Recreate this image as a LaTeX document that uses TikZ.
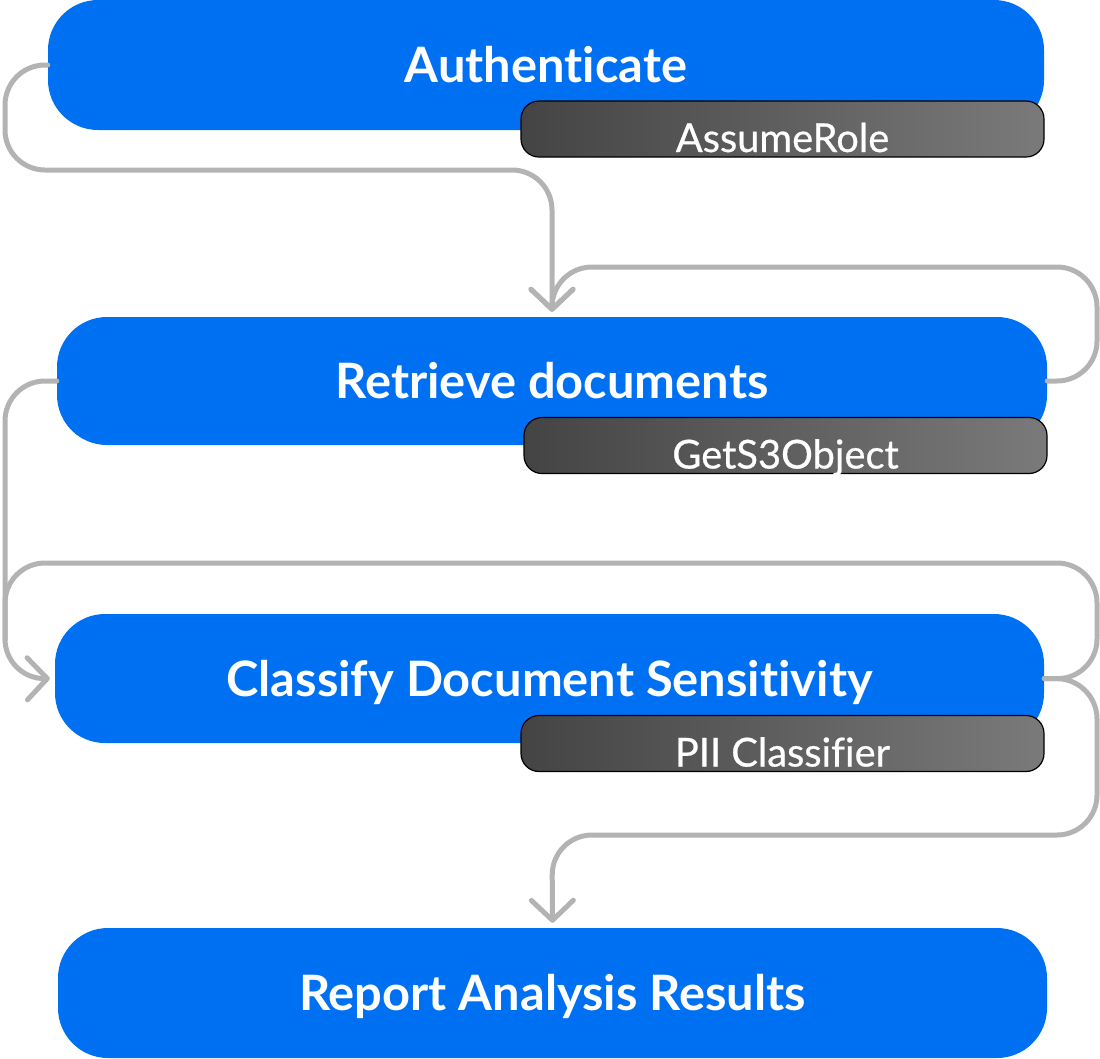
\documentclass[tikz,border=0pt]{standalone}
\usepackage{fontspec}
\setmainfont{Lato}[Ligatures=NoCommon]
\newfontfamily\apifont{Lato}[Ligatures=NoCommon, FakeBold=0.6]
\usetikzlibrary{arrows.meta, positioning}

\definecolor{flowblue}{HTML}{0070F3}
\definecolor{flowgray}{HTML}{B3B3B3}
\definecolor{apidark}{HTML}{444444}
\definecolor{apilight}{HTML}{7A7A7A}

\begin{document}
\begin{tikzpicture}[x=1pt, y=-1pt,
  stepbox/.style={rectangle, fill=flowblue, rounded corners=50pt, minimum width=990pt, minimum height=129pt, inner sep=0pt, text=white, font=\fontsize{48.8}{50}\selectfont\bfseries, text height=35pt, text depth=0pt},
  apibox/.style={rectangle, draw=black, line width=1.2pt, left color=apidark, right color=apilight, rounded corners=18pt, minimum width=523pt, minimum height=56pt, inner sep=0pt, text=white, font=\apifont\fontsize{39.8}{42}\selectfont, text height=46pt, text depth=0pt},
  flow/.style={draw=flowgray, line width=5pt, rounded corners=40pt, line cap=round},
  flowtip/.style={-{Straight Barb[length=20pt, width=42pt, line width=5pt, round]}, shorten >=5pt}
]
\useasboundingbox (0,0) rectangle (1100,1058);

% Steps
\node[stepbox, minimum width=996pt, minimum height=130pt] (auth) at (546,65) {Authenticate};
\node[apibox] (assume) at (782.5,129) {AssumeRole};

\node[stepbox, minimum height=128pt] (ret) at (552,381) {Retrieve documents};
\node[apibox] (gets3) at (785.5,445.5) {GetS3Object};

\node[stepbox, minimum width=989pt] (cls) at (549.5,678.5) {Classify Document Sensitivity};
\node[apibox] (pii) at (782.5,743.5) {PII Classifier};

\node[stepbox, minimum width=989pt, minimum height=130pt] (rep) at (552.5,993) {Report Analysis Results};

% Connectors
\draw[flow, flowtip] (auth.west) -- (5,65) -- (5,170) -- (552,170) -- (ret.north);
\draw[flow, flowtip] (ret.east) -- (1097,381) -- (1097,267) -- (552,267) -- (ret.north);
\draw[flow, flowtip] (ret.west) -- (5,381) -- (5,679) -- (cls.west);
\draw[flow] (cls.east) -- (1097,679) -- (1097,563) -- (5,563) -- (5,640);
\draw[flow, flowtip] (cls.east) -- (1097,679) -- (1097,835) -- (552,835) -- (rep.north);
\end{tikzpicture}
\end{document}
